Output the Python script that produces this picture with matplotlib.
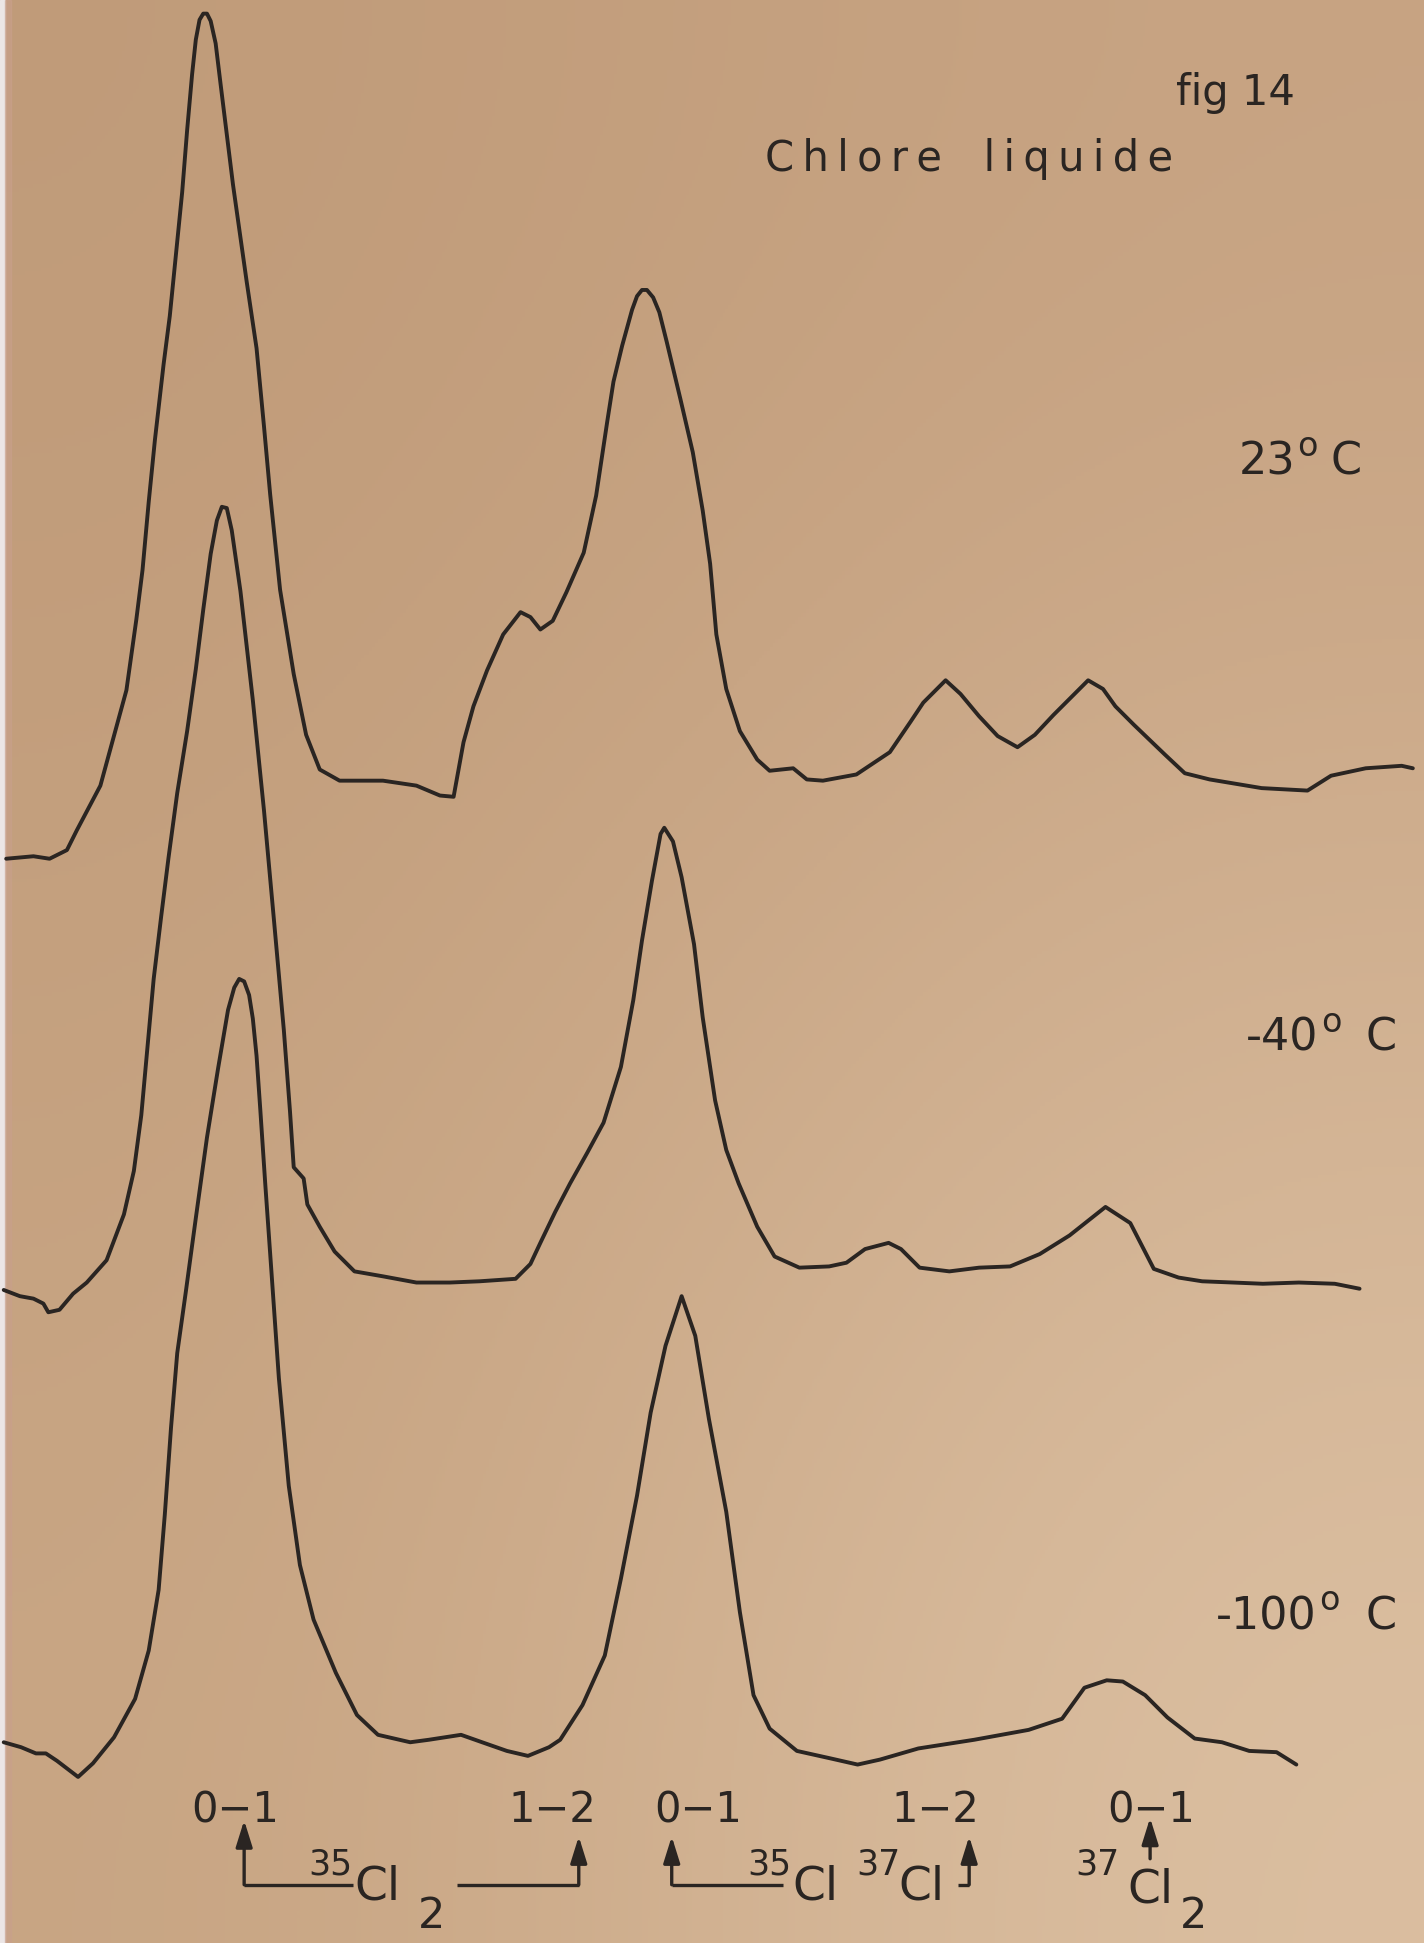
import matplotlib.pyplot as plt
import numpy as np

# Raman spectra of liquid chlorine.
# x: position along the chart (left to right), intensity: pen height above each trace's baseline
x_23 = [5, 27, 40, 54, 62, 81, 102, 110, 115, 120,
        125, 132, 137, 141, 147, 151, 155, 158, 161, 164,
        167, 170, 174, 178, 188, 199, 207, 213, 218, 226,
        237, 247, 258, 274,
        309, 336, 355, 366, 374, 382, 393, 406, 420, 428,
        436, 446, 457, 471, 481, 490, 495, 502, 510, 514,
        518, 522, 527, 532, 538, 549, 559, 567, 573, 578,
        586, 597, 611, 621, 640, 651, 664, 691, 718, 735,
        745, 763, 775, 790, 805, 821, 835, 850, 865, 878,
        890, 900, 915, 940, 956, 976, 1018, 1055, 1074, 1102,
        1131, 1140]
i_23 = [7, 9, 7, 14, 30, 66, 143, 200, 240, 295,
        345, 406, 445, 485, 545, 595, 640, 668, 684, 689,
        689, 683, 665, 632, 551, 473, 419, 356, 301, 224,
        156, 107, 79, 70,
        70, 66, 58, 57, 101, 130, 159, 188, 206, 202,
        192, 199, 222, 254, 300, 360, 392, 421, 450, 461,
        466, 466, 460, 448, 424, 378, 335, 288, 245, 188,
        144, 110, 87, 78, 80, 71, 70, 75, 93, 118,
        133, 151, 140, 122, 106, 97, 107, 123, 138, 151,
        144, 130, 115, 91, 76, 71, 64, 62, 74, 80,
        82, 80]

x_m40 = [3, 16, 27, 35, 39, 48, 59, 70, 86, 100,
         108, 114, 119, 124, 130, 136, 143, 151, 158, 164,
         170, 175, 179, 183, 187, 194, 204, 213, 221, 229,
         234, 237, 245, 248,
         258, 270, 286, 309, 336, 363, 387, 416, 428, 436,
         448, 460, 474, 487, 501, 511, 518, 526, 533, 536,
         543, 550, 560, 567, 577, 586, 596, 611, 625, 645,
         669, 683, 698, 717, 727, 742, 766, 790, 815, 839,
         863, 892, 912, 931, 951, 970, 995, 1019, 1048, 1077,
         1097]
i_m40 = [19, 14, 12, 8, 1, 3, 16, 25, 43, 80,
         115, 160, 215, 270, 320, 368, 420, 470, 520, 568,
         613, 640, 651, 650, 632, 583, 495, 406, 318, 229,
         163, 118, 109, 88,
         70, 50, 34, 30, 25, 25, 26, 28, 40, 57,
         82, 105, 130, 154, 199, 253, 301, 349, 387, 392,
         381, 352, 298, 239, 172, 132, 105, 70, 46, 37,
         38, 41, 52, 57, 52, 37, 34, 37, 38, 48,
         63, 86, 73, 36, 29, 26, 25, 24, 25, 24,
         20]

x_m100 = [3, 17, 29, 37, 46, 63, 75, 92, 109, 120,
          128, 133, 138, 143, 150, 158, 167, 176, 184, 189,
          193, 197, 201, 204, 207, 210, 214, 219, 225, 233,
          242, 253, 271, 288,
          305, 331, 346, 372, 389, 409, 426, 443, 452, 470,
          488, 501, 514, 525, 537, 550, 561, 572, 586, 597,
          608, 621, 643, 670, 692, 710, 741, 786, 830, 857,
          875, 893, 906, 924, 942, 964, 986, 1008, 1030, 1046]
i_m100 = [34, 30, 25, 25, 19, 6, 17, 38, 69, 108,
          157, 218, 288, 348, 398, 457, 522, 578, 625, 643,
          650, 648, 637, 618, 588, 545, 485, 414, 328, 241,
          177, 133, 90, 56,
          40, 34, 36, 40, 34, 27, 23, 30, 36, 64,
          104, 166, 233, 300, 354, 394, 362, 295, 220, 139,
          72, 45, 27, 21, 16, 20, 29, 36, 44, 53,
          78, 84, 83, 72, 54, 37, 34, 27, 26, 16]

temperatures = ["23", "-40", "-100"]
transitions = ["0\u22121", "1\u22122", "0\u22121", "1\u22122", "0\u22121"]
peak_pos = [197, 467, 542, 782, 928]

ink = "#2a2522"
fig = plt.figure(figsize=(14.24, 19.43), dpi=100)
ax = fig.add_axes([0, 0, 1, 1])
ax.set_xlim(0, 1149)
ax.set_ylim(1568, 0)
ax.axis("off")

# aged paper
paper = np.array([[[192, 155, 121], [199, 163, 130]],
                  [[200, 165, 131], [220, 192, 162]]]) / 255
ax.imshow(paper, extent=[0, 1149, 1568, 0], interpolation="bicubic", aspect="auto", zorder=0)
ax.axvspan(0, 4, color="#ece6e6", zorder=1)
ax.axvspan(4, 9, color="#c9a08c", alpha=0.6, zorder=1)

baselines = [700, 1060, 1440]
for xs, ys, base in zip([x_23, x_m40, x_m100], [i_23, i_m40, i_m100], baselines):
    ax.plot(xs, base - np.array(ys), color=ink, lw=2.8, solid_joinstyle="round",
            solid_capstyle="round", zorder=3)

font = "DejaVu Sans"
ax.text(997, 75, "fig 14", fontsize=30, color=ink, ha="center", va="center", family=font)
ax.text(782, 128, "\u2009".join("Chlore") + "\u2003" + "\u2009".join("liquide"),
        fontsize=30, color=ink, ha="center", va="center", family=font)

# temperature of each trace: number, raised degree circle, C
temp_y = [373, 838, 1305]
num_right = [1045, 1064, 1062]
c_right = [1099, 1127, 1127]
for t, ty, nr, cr in zip(temperatures, temp_y, num_right, c_right):
    ax.text(nr, ty, t, fontsize=32, color=ink, ha="right", va="center", family=font)
    ax.text(nr + 2, ty - 13, "o", fontsize=24, color=ink, ha="left", va="center", family=font)
    ax.text(cr, ty, "C", fontsize=32, color=ink, ha="right", va="center", family=font)

label_x = [190, 446, 563, 755, 929]
for lab, lx in zip(transitions, label_x):
    ax.text(lx, 1461, lab, fontsize=30, color=ink, ha="center", va="center", family=font)

# arrows pointing to the band positions
arrow_tips = [1469, 1482, 1482, 1482, 1467]
arrow_bottoms = [1521, 1521, 1521, 1521, 1500]
for px, tip, bot in zip(peak_pos, arrow_tips, arrow_bottoms):
    ax.annotate("", xy=(px, tip), xytext=(px, bot),
                arrowprops=dict(arrowstyle="-|>,head_length=0.8,head_width=0.25",
                                mutation_scale=20, color=ink, lw=2.4, shrinkA=0, shrinkB=0),
                zorder=3)

for x0, x1 in [(peak_pos[0], 285), (369, peak_pos[1]), (peak_pos[2], 632), (773, peak_pos[3])]:
    ax.plot([x0, x1], [1521, 1521], color=ink, lw=2.4, solid_capstyle="butt", zorder=3)

# isotope labels
iso = [("35", 249, 1505, 25), ("Cl", 286, 1523, 34), ("2", 337, 1546, 31),
       ("35", 603, 1505, 25), ("Cl", 639, 1523, 34),
       ("37", 691, 1505, 25), ("Cl", 725, 1523, 34),
       ("37", 868, 1505, 25), ("Cl", 910, 1525, 34), ("2", 952, 1546, 31)]
for s, sx, sy, fs in iso:
    ax.text(sx, sy, s, fontsize=fs, color=ink, ha="left", va="center", family=font)

fig.savefig("out.png", dpi=100)
